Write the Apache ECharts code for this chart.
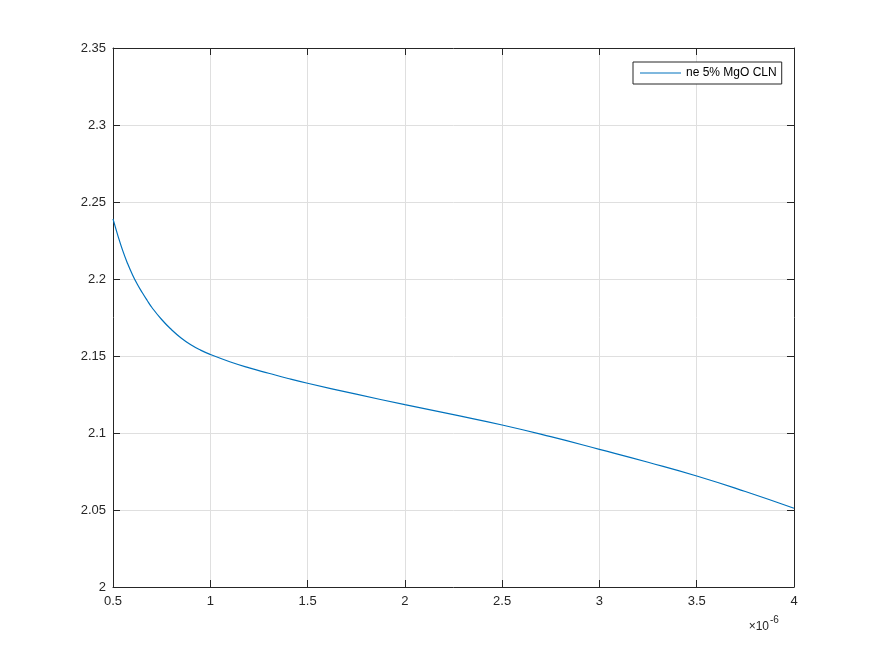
<!DOCTYPE html>
<html>
<head>
<meta charset="utf-8">
<script src="https://cdn.jsdelivr.net/npm/echarts@6/dist/echarts.min.js"></script>
<style>html,body{margin:0;padding:0;background:#fff;}#c{width:877px;height:659px;}</style>
</head>
<body>
<div id="c"></div>
<script>
// wavelength (×10^-6 m)
const wavelength = [0.50,0.525,0.55,0.575,0.60,0.625,0.65,0.675,0.70,0.75,0.80,0.85,0.90,0.95,1.00,1.1,1.2,1.3,1.4,1.5,1.75,2.0,2.25,2.5,2.75,3.0,3.25,3.5,3.75,4.0];
// refractive index ne
const neValues = [2.2390,2.2282,2.2184,2.2100,2.2028,2.1966,2.1912,2.1862,2.1815,2.1737,2.1672,2.1617,2.1573,2.1538,2.1510,2.1463,2.1423,2.1388,2.1354,2.1323,2.1252,2.1184,2.1119,2.1052,2.0976,2.0894,2.0810,2.0721,2.0620,2.0511];
const seriesName = 'ne 5% MgO CLN';
const xTicks = ['0.5','1','1.5','2','2.5','3','3.5','4'];
const yTicks = ['2','2.05','2.1','2.15','2.2','2.25','2.3','2.35'];

const axisColor = '#262626';
const font = 'Liberation Sans, Arial, sans-serif';
const chart = echarts.init(document.getElementById('c'));
const data = wavelength.map((x, i) => [x, neValues[i]]);
const fmtX = v => { const s = xTicks.find(t => Math.abs(parseFloat(t) - v) < 1e-9); return s !== undefined ? s : ''; };
const fmtY = v => { const s = yTicks.find(t => Math.abs(parseFloat(t) - v) < 1e-9); return s !== undefined ? s : ''; };

chart.setOption({
  animation: false,
  backgroundColor: '#ffffff',
  grid: { left: 113, right: 83, top: 48, bottom: 72, containLabel: false },
  legend: {
    left: 633, top: 62,
    data: [{ name: seriesName, icon: 'rect' }],
    itemWidth: 41, itemHeight: 1.2,
    padding: [5, 5, 5, 7],
    backgroundColor: '#ffffff',
    borderColor: axisColor, borderWidth: 1, borderRadius: 0,
    textStyle: { fontFamily: font, fontSize: 12, color: '#000' }
  },
  xAxis: [{
    type: 'value', min: 0.5, max: 4, interval: 0.5, position: 'bottom',
    axisLine: { show: true, onZero: false, lineStyle: { color: axisColor, width: 1 } },
    axisTick: { show: true, inside: true, length: 7, lineStyle: { color: axisColor } },
    axisLabel: { margin: 8, color: axisColor, fontFamily: font, fontSize: 13, formatter: fmtX },
    splitLine: { show: true, lineStyle: { color: '#dfdfdf', width: 1 } }
  }, {
    type: 'value', min: 0.5, max: 4, interval: 0.5, position: 'top',
    axisLine: { show: true, onZero: false, lineStyle: { color: axisColor, width: 1 } },
    axisTick: { show: true, inside: true, length: 7, lineStyle: { color: axisColor } },
    axisLabel: { show: false }, splitLine: { show: false }
  }],
  yAxis: [{
    type: 'value', min: 2, max: 2.35, interval: 0.05, position: 'left',
    axisLine: { show: true, onZero: false, lineStyle: { color: axisColor, width: 1 } },
    axisTick: { show: true, inside: true, length: 7, lineStyle: { color: axisColor } },
    axisLabel: { margin: 7, color: axisColor, fontFamily: font, fontSize: 13, formatter: fmtY },
    splitLine: { show: true, lineStyle: { color: '#dfdfdf', width: 1 } }
  }, {
    type: 'value', min: 2, max: 2.35, interval: 0.05, position: 'right',
    axisLine: { show: true, onZero: false, lineStyle: { color: axisColor, width: 1 } },
    axisTick: { show: true, inside: true, length: 7, lineStyle: { color: axisColor } },
    axisLabel: { show: false }, splitLine: { show: false }
  }],
  series: [{
    name: seriesName, type: 'line', data: data, smooth: 0.5,
    showSymbol: false, symbol: 'none',
    lineStyle: { color: '#0072BD', width: 1.2 },
    itemStyle: { color: '#0072BD' }
  }],
  graphic: [
    { type: 'text', right: 108, top: 621, style: { text: '×10', fontFamily: font, fontSize: 12, fill: axisColor } },
    { type: 'text', left: 770, top: 615, style: { text: '-6', fontFamily: font, fontSize: 10, fill: axisColor } }
  ]
});
</script>
</body>
</html>
